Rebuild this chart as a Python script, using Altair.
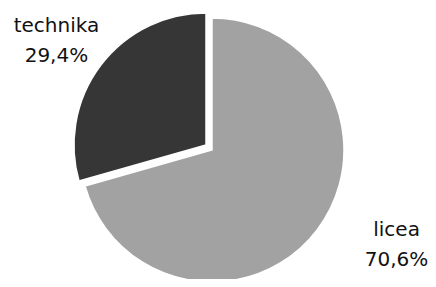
import math
import altair as alt
import pandas as pd

categories = ["licea", "technika"]
values = [70.6, 29.4]
colors = ["#a2a2a2", "#363636"]

df = pd.DataFrame({"category": categories, "value": values})

W, H = 420, 271
CX, CY, R = 204, 142, 132
EXPLODE = (-6, -5)

theta_scale = alt.Scale(domain=[0, 100], range=[0, 2 * math.pi])
color_scale = alt.Scale(domain=categories, range=colors)

base = (
    alt.Chart(df)
    .transform_window(end="sum(value)", frame=[None, 0])
    .transform_calculate(
        start="datum.end - datum.value",
        mid="(datum.start + datum.end) / 2",
        label="datum.category + '\\n' + replace(format(datum.value, '.1f'), '.', ',') + '%'",
    )
)


def arc(cat, ox, oy):
    return (
        base.transform_filter(f"datum.category == '{cat}'")
        .mark_arc(radius=R, stroke="white", strokeWidth=1.5)
        .encode(
            theta=alt.Theta("start:Q", scale=theta_scale),
            theta2="end:Q",
            color=alt.Color("category:N", scale=color_scale, legend=None),
            x=alt.value(CX + ox),
            y=alt.value(CY + oy),
        )
    )


def label(cat, r, dx, dy):
    return (
        base.transform_filter(f"datum.category == '{cat}'")
        .mark_text(
            radius=r, dx=dx, dy=dy, lineBreak="\n", font="DejaVu Sans",
            fontSize=20, lineHeight=30, color="#111111", align="center", baseline="middle",
        )
        .encode(
            theta=alt.Theta("mid:Q", scale=theta_scale),
            text="label:N",
            x=alt.value(CX),
            y=alt.value(CY),
        )
    )


chart = alt.layer(
    arc("licea", 0, 0),
    arc("technika", *EXPLODE),
    label("technika", 190, -4, -9),
    label("licea", 195, 29, -38),
).properties(width=W, height=H, padding=0, autosize="none").configure_view(stroke=None)

chart.save("out.html", embed_options={"renderer": "svg", "actions": False})
